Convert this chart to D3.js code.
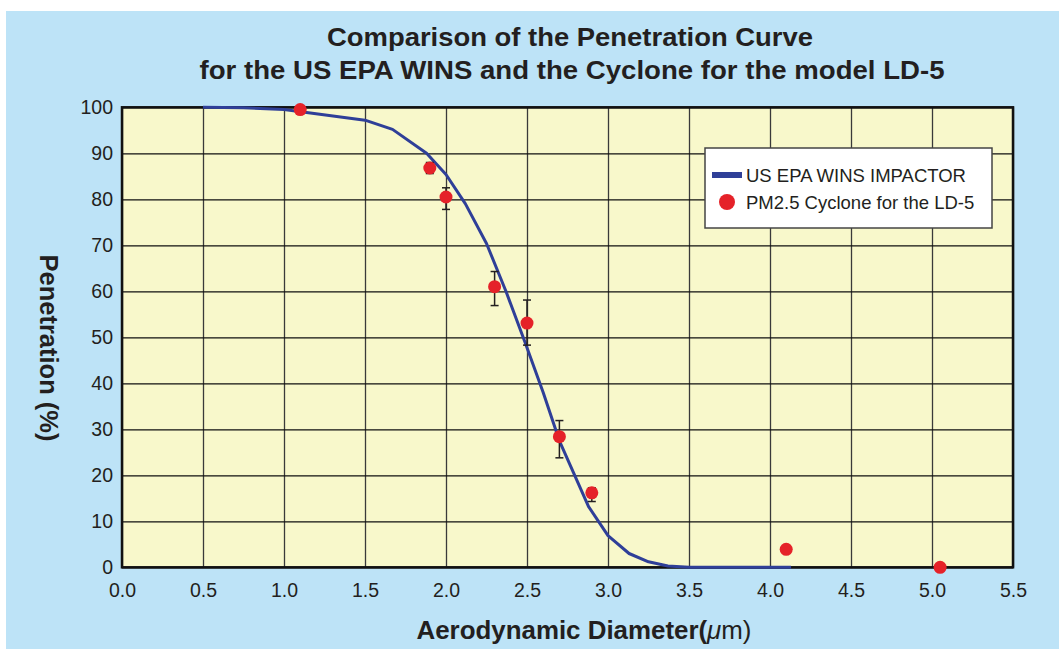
<!DOCTYPE html>
<html lang="en">

<head>
    <meta charset="UTF-8">
    <title>Penetration Curve LD-5</title>
    <script src="https://cdnjs.cloudflare.com/ajax/libs/d3/7.8.5/d3.min.js"></script>
    <style>
        body {
            margin: 0;
            background-color: white;
        }

        .tick text {
            font-family: "Liberation Sans", Arial, sans-serif;
            font-size: 19.5px;
            fill: #231f20;
        }

        .title {
            font-family: "Liberation Sans", Arial, sans-serif;
            font-weight: bold;
            fill: #231f20;
        }

        .legend-text {
            font-family: "Liberation Sans", Arial, sans-serif;
            font-size: 18.5px;
            fill: #231f20;
        }
    </style>
</head>

<body>
    <svg id="chart"></svg>

    <script>

        const width = 1059;
        const height = 649;

        // US EPA WINS impactor curve
        const curveX = [0.5, 0.75, 1.0, 1.5, 1.67, 1.88, 2.0, 2.12, 2.25, 2.37, 2.49, 2.6, 2.7, 2.88, 3.0, 3.13, 3.25, 3.37, 3.5, 4.13];
        const curveY = [100, 99.9, 99.5, 97.2, 95.2, 90, 85.4, 79, 70.4, 60, 48.7, 38, 27.5, 13.2, 6.9, 3.0, 1.2, 0.3, 0, 0];

        // PM2.5 cyclone measurements
        const pointX = [1.1, 1.9, 2.0, 2.3, 2.5, 2.7, 2.9, 4.1, 5.05];
        const pointY = [99.5, 86.8, 80.5, 61.0, 53.1, 28.4, 16.2, 3.9, 0];
        const errHigh = [null, 88.0, 82.5, 64.3, 58.1, 31.9, 17.3, null, null];
        const errLow = [null, 85.6, 77.8, 56.9, 48.3, 23.8, 14.3, null, null];

        const xTicks = [0, 0.5, 1.0, 1.5, 2.0, 2.5, 3.0, 3.5, 4.0, 4.5, 5.0, 5.5];
        const yTicks = [0, 10, 20, 30, 40, 50, 60, 70, 80, 90, 100];

        const seriesNames = ["US EPA WINS IMPACTOR", "PM2.5 Cyclone for the LD-5"];

        const plot = {left: 122, right: 1013, top: 107.3, bottom: 567.3};

        let svg = d3.select("#chart")
            .attr("width", width)
            .attr("height", height);

        // blue panel
        svg.append("rect")
            .attr("x", 6)
            .attr("y", 11)
            .attr("width", width - 6)
            .attr("height", height - 11)
            .style("fill", "#bde3f7");

        let x = d3.scaleLinear().domain([0, 5.5]).range([plot.left, plot.right]);
        let y = d3.scaleLinear().domain([0, 100]).range([plot.bottom, plot.top]);

        svg.append("rect")
            .attr("x", plot.left)
            .attr("y", plot.top)
            .attr("width", plot.right - plot.left)
            .attr("height", plot.bottom - plot.top)
            .style("fill", "#f8f8cb");

        // grid + labels
        let xAxis = svg.append("g")
            .attr("transform", "translate(0," + plot.bottom + ")")
            .call(d3.axisBottom(x)
                .tickValues(xTicks)
                .tickFormat(d3.format(".1f"))
                .tickSize(-(plot.bottom - plot.top))
                .tickPadding(16));
        xAxis.select(".domain").remove();
        xAxis.selectAll("line").style("stroke", "#3a3a3a").style("stroke-width", 1.3);

        let yAxis = svg.append("g")
            .attr("transform", "translate(" + plot.left + ",0)")
            .call(d3.axisLeft(y)
                .tickValues(yTicks)
                .tickSize(-(plot.right - plot.left))
                .tickPadding(9));
        yAxis.select(".domain").remove();
        yAxis.selectAll("line").style("stroke", "#111").style("stroke-width", 1.3);

        // frame
        svg.append("rect")
            .attr("x", plot.left)
            .attr("y", plot.top)
            .attr("width", plot.right - plot.left)
            .attr("height", plot.bottom - plot.top)
            .style("fill", "none")
            .style("stroke", "#111")
            .style("stroke-width", 2.5);

        // curve
        let line = d3.line()
            .x((d, i) => x(curveX[i]))
            .y(d => y(d));

        svg.append("path")
            .datum(curveY)
            .attr("d", line)
            .style("fill", "none")
            .style("stroke", "#2f3f98")
            .style("stroke-width", 3)
            .style("stroke-linejoin", "round");

        // error bars
        let errIdx = d3.range(pointX.length).filter(i => errHigh[i] != null);
        let eb = svg.selectAll(".err")
            .data(errIdx)
            .join("g")
            .attr("class", "err")
            .style("stroke", "#231f20")
            .style("stroke-width", 1.5);
        eb.append("line")
            .attr("x1", i => x(pointX[i])).attr("x2", i => x(pointX[i]))
            .attr("y1", i => y(errHigh[i])).attr("y2", i => y(errLow[i]));
        eb.append("line")
            .attr("x1", i => x(pointX[i]) - 4).attr("x2", i => x(pointX[i]) + 4)
            .attr("y1", i => y(errHigh[i])).attr("y2", i => y(errHigh[i]));
        eb.append("line")
            .attr("x1", i => x(pointX[i]) - 4).attr("x2", i => x(pointX[i]) + 4)
            .attr("y1", i => y(errLow[i])).attr("y2", i => y(errLow[i]));

        // points
        svg.selectAll(".dot")
            .data(pointY)
            .join("circle")
            .attr("class", "dot")
            .attr("cx", (d, i) => x(pointX[i]))
            .attr("cy", d => y(d))
            .attr("r", 6.5)
            .style("fill", "#e52229");

        // titles
        svg.append("text")
            .attr("class", "title")
            .attr("x", 570).attr("y", 46)
            .attr("text-anchor", "middle")
            .attr("font-size", 25)
            .attr("textLength", 486)
            .attr("lengthAdjust", "spacingAndGlyphs")
            .text("Comparison of the Penetration Curve");

        svg.append("text")
            .attr("class", "title")
            .attr("x", 572).attr("y", 79)
            .attr("text-anchor", "middle")
            .attr("font-size", 25)
            .attr("textLength", 745)
            .attr("lengthAdjust", "spacingAndGlyphs")
            .text("for the US EPA WINS and the Cyclone for the model LD-5");

        let xt = svg.append("text")
            .attr("class", "title")
            .attr("x", 584).attr("y", 639)
            .attr("text-anchor", "middle")
            .attr("font-size", 26)
            .attr("textLength", 335)
            .attr("lengthAdjust", "spacingAndGlyphs");
        xt.append("tspan").text("Aerodynamic Diameter(");
        xt.append("tspan").attr("font-style", "italic").attr("font-weight", "normal").text("\u03bc");
        xt.append("tspan").attr("font-weight", "normal").text("m)");

        svg.append("text")
            .attr("class", "title")
            .attr("transform", "translate(40,348) rotate(90)")
            .attr("text-anchor", "middle")
            .attr("font-size", 25)
            .attr("textLength", 187)
            .attr("lengthAdjust", "spacingAndGlyphs")
            .text("Penetration (%)");

        // legend
        let legend = svg.append("g");
        legend.append("rect")
            .attr("x", 705).attr("y", 148)
            .attr("width", 287).attr("height", 80)
            .style("fill", "white")
            .style("stroke", "#444")
            .style("stroke-width", 1.5);
        legend.append("line")
            .attr("x1", 712).attr("x2", 742)
            .attr("y1", 175).attr("y2", 175)
            .style("stroke", "#2f3f98")
            .style("stroke-width", 6);
        legend.append("circle")
            .attr("cx", 727).attr("cy", 202)
            .attr("r", 8)
            .style("fill", "#e52229");
        legend.selectAll(".legend-text")
            .data(seriesNames)
            .join("text")
            .attr("class", "legend-text")
            .attr("x", 746)
            .attr("y", (d, i) => 182 + i * 26.5)
            .text(d => d);

    </script>
</body>

</html>
